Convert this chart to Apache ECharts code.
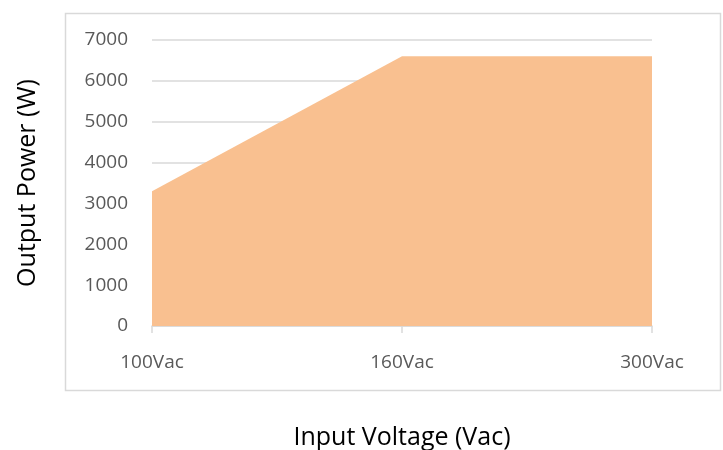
<!DOCTYPE html>
<html>
<head>
<meta charset="utf-8">
<script src="https://cdn.jsdelivr.net/npm/echarts@6/dist/echarts.min.js"></script>
<style>
  html, body { margin: 0; padding: 0; background: #fff; }
  #chart { width: 723px; height: 450px; }
</style>
</head>
<body>
<div id="chart"></div>
<script>
  // input voltage categories and output power (W)
  var voltages = ['100Vac', '160Vac', '300Vac'];
  var power = [3300, 6600, 6600];
  var yTicks = [0, 1000, 2000, 3000, 4000, 5000, 6000, 7000];

  var font = '"Open Sans", "Liberation Sans", sans-serif';
  var myChart = echarts.init(document.getElementById('chart'));
  myChart.setOption({
    animation: false,
    grid: { left: 152, right: 71, top: 40, bottom: 124, outerBoundsMode: 'none', containLabel: false },
    graphic: [{
      type: 'rect',
      left: 63, top: 11,
      shape: { width: 655, height: 377 },
      style: { fill: 'none', stroke: '#d9d9d9', lineWidth: 1.5 },
      silent: true
    }],
    xAxis: {
      type: 'category',
      data: voltages,
      boundaryGap: false,
      name: 'Input Voltage (Vac)',
      nameLocation: 'middle',
      nameGap: 99,
      nameTextStyle: { fontFamily: font, fontSize: 25, color: '#000' },
      axisLine: { lineStyle: { color: '#d9d9d9', width: 1.5 } },
      axisTick: { show: true, length: 7, lineStyle: { color: '#d9d9d9', width: 1.5 } },
      axisLabel: { margin: 27, fontFamily: font, fontSize: 19, color: '#595959' }
    },
    yAxis: {
      type: 'value',
      min: yTicks[0],
      max: yTicks[yTicks.length - 1],
      interval: 1000,
      name: 'Output Power (W)',
      nameLocation: 'middle',
      nameGap: 112,
      nameTextStyle: { fontFamily: font, fontSize: 25, color: '#000' },
      axisLine: { show: false },
      axisTick: { show: false },
      splitLine: { lineStyle: { color: '#d9d9d9', width: 1.5 } },
      axisLabel: { margin: 24, fontFamily: font, fontSize: 19, color: '#595959', formatter: function (v) { return String(v); } }
    },
    series: [{
      type: 'line',
      data: power,
      symbol: 'none',
      lineStyle: { width: 0 },
      areaStyle: { color: '#f9c090', opacity: 1 },
      z: 3
    }]
  });
</script>
</body>
</html>
